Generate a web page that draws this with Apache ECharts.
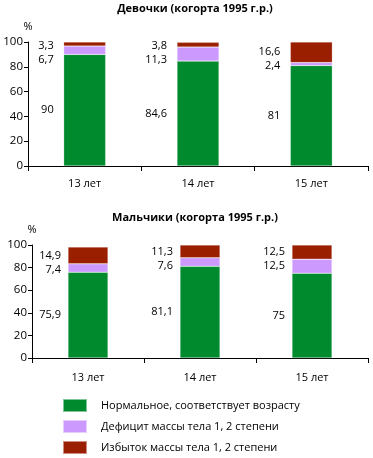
<!DOCTYPE html>
<html><head><meta charset="utf-8">
<script src="https://cdn.jsdelivr.net/npm/echarts@6/dist/echarts.min.js"></script>
<style>html,body{margin:0;padding:0;background:#fff}#c{width:373px;height:458px}</style>
</head><body><div id="c"></div>
<script>
const categories = ['13 лет', '14 лет', '15 лет'];
const seriesNames = ['Нормальное, соответствует возрасту', 'Дефицит массы тела 1, 2 степени', 'Избыток массы тела 1, 2 степени'];
const girlsNormal = [90, 84.6, 81];
const girlsDeficit = [6.7, 11.3, 2.4];
const girlsExcess = [3.3, 3.8, 16.6];
const boysNormal = [75.9, 81.1, 75];
const boysDeficit = [7.4, 7.6, 12.5];
const boysExcess = [14.9, 11.3, 12.5];
const titles = ['Девочки (когорта 1995 г.р.)', 'Мальчики (когорта 1995 г.р.)'];
const yTicks = [0, 20, 40, 60, 80, 100];

const colors = ['#008A2E', '#CC99FF', '#9A1E00'];
const font = '"Open Sans", sans-serif';
const chart = echarts.init(document.getElementById('c'));

function fmt(v){ return String(v).replace('.', ','); }

const grids = [
  {left: 28, right: 5, top: 42, height: 124},
  {left: 32, right: 5, top: 245, height: 113}
];
const yMax = yTicks[yTicks.length-1];

// desired label centres (pixels), resolving overlaps top-down like the source
function labelTargets(stacks, g){
  const res = stacks.map(()=>[]);
  for (let c = 0; c < categories.length; c++){
    let base = 0;
    const centres = stacks.map(s=>{ const v = s[c]; const m = base + v/2; base += v; return g.top + g.height*(1 - m/yMax); });
    let prev = null;
    for (let i = stacks.length-1; i >= 0; i--){
      let y = centres[i];
      if (prev === null) y = Math.max(y, g.top + 4);
      else y = Math.max(y, prev + 14);
      res[i][c] = y; prev = y;
    }
  }
  return res;
}

function xAx(i, margin){
  return {type:'category', gridIndex:i, data:categories,
    axisLine:{lineStyle:{color:'#000', width:1}},
    axisTick:{show:true, length:5, lineStyle:{color:'#000'}},
    axisLabel:{color:'#000', fontSize:11, fontFamily:font, margin:margin}};
}
function yAx(i){
  return {type:'value', gridIndex:i, min:yTicks[0], max:yMax, interval:20,
    name:'%', nameLocation:'end', nameGap:10,
    nameTextStyle:{color:'#000', fontSize:11, fontFamily:font, align:'center'},
    axisLine:{show:true, lineStyle:{color:'#000', width:1}},
    axisTick:{show:true, length:4, lineStyle:{color:'#000'}},
    splitLine:{show:false},
    axisLabel:{color:'#000', fontSize:11.5, fontFamily:font, margin:5}};
}
function mk(name, data, idx, gi, targets, dist){
  return {name:name, type:'bar', stack:'s'+gi, xAxisIndex:gi, yAxisIndex:gi,
    data:data, barWidth: gi === 0 ? 42 : 40,
    itemStyle:{color:colors[idx], borderColor:'rgba(255,255,255,0.5)', borderWidth:0.5},
    label:{show:true, position:'left', distance:dist, color:'#000', fontSize:11, fontFamily:font,
      formatter:p=>fmt(p.value)},
    labelLayout:function(p){
      const t = targets[idx][p.dataIndex];
      const cur = p.labelRect.y + p.labelRect.height/2;
      return {dy: t - cur};
    }};
}
const girls = [girlsNormal, girlsDeficit, girlsExcess];
const boys = [boysNormal, boysDeficit, boysExcess];
const gT = labelTargets(girls, grids[0]);
const bT = labelTargets(boys, grids[1]);
const series = [];
girls.forEach((d,i)=>series.push(mk(seriesNames[i], d, i, 0, gT, 10)));
boys.forEach((d,i)=>series.push(mk(seriesNames[i], d, i, 1, bT, 7)));

chart.setOption({
  animation:false,
  title:[
    {text:titles[0], left:190, top:-2, textAlign:'center', textStyle:{fontSize:11, fontWeight:'bold', fontFamily:font, color:'#000'}},
    {text:titles[1], left:190, top:207, textAlign:'center', textStyle:{fontSize:11, fontWeight:'bold', fontFamily:font, color:'#000'}}
  ],
  legend:{orient:'vertical', left:62, top:398, height:80, width:300, padding:0,
    itemWidth:24, itemHeight:13, itemGap:6,
    icon:'rect', data:seriesNames,
    textStyle:{fontSize:11, fontFamily:font, color:'#000', padding:[0,0,0,9]}},
  grid:grids,
  xAxis:[xAx(0, 12), xAx(1, 14)],
  yAxis:[yAx(0), yAx(1)],
  series:series
});
</script></body></html>
